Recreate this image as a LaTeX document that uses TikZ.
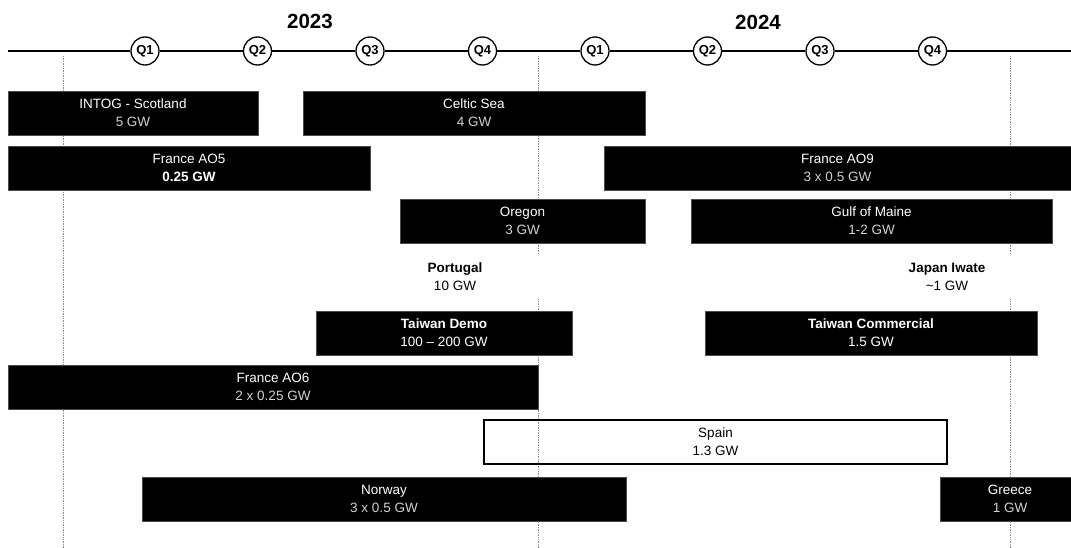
\documentclass[tikz,border=0pt]{standalone}
\usepackage{fontspec}
\setmainfont{Liberation Sans}
\usetikzlibrary{positioning}
\tikzset{
  bar/.style={fill=black, draw=black!70, line width=0.4pt, text=white, inner sep=0pt,
    minimum height=44pt, align=center, font=\fontsize{13.5}{18}\selectfont},
  openbar/.style={bar, fill=none, draw=black, line width=1.5pt, text=black},
  freebar/.style={bar, fill=white, draw=none, text=black},
  quarter/.style={circle, draw=black, line width=1.3pt, fill=white, minimum size=28pt,
    inner sep=0pt, font=\bfseries\fontsize{13}{13}\selectfont},
  year/.style={font=\bfseries\fontsize{20.5}{20.5}\selectfont},
  timeline/.style={black, line width=1.8pt},
  guide/.style={black!45, densely dotted, line width=0.7pt},
}
\newcommand{\gwval}[1]{{\color{white!82!black}#1}}
\begin{document}
\begin{tikzpicture}[x=1pt, y=-1pt]
\useasboundingbox (0,0) rectangle (1071,548);
% Guides
\coordinate (guidea top) at (63,56);
\coordinate (guidea bot) at (63,548);
\coordinate (guideb top) at (538,56);
\coordinate (guideb bot) at (538,548);
\coordinate (guidec top) at (1010,56);
\coordinate (guidec bot) at (1010,548);
\draw[guide] (guidea top) -- (guidea bot);
\draw[guide] (guideb top) -- (guideb bot);
\draw[guide] (guidec top) -- (guidec bot);
% Timeline
\node[year] (yr2023) at (310,21) {2023};
\node[year] (yr2024) at (758,22) {2024};
\node[quarter] (y23q1) at (145,51) {Q1};
\node[quarter] (y23q2) at (257.5,51) {Q2};
\node[quarter] (y23q3) at (370,51) {Q3};
\node[quarter] (y23q4) at (482.5,51) {Q4};
\node[quarter] (y24q1) at (595,51) {Q1};
\node[quarter] (y24q2) at (707.5,51) {Q2};
\node[quarter] (y24q3) at (820,51) {Q3};
\node[quarter] (y24q4) at (932.5,51) {Q4};
\coordinate (line start) at (8,51);
\coordinate (line end) at (1071,51);
\draw[timeline] (line start) -- (y23q1) -- (y23q2) -- (y23q3) -- (y23q4)
  -- (y24q1) -- (y24q2) -- (y24q3) -- (y24q4) -- (line end);
% Tenders
\node[bar, minimum width=250pt] (intog) at (133,113) {INTOG - Scotland\\\gwval{5 GW}};
\node[bar, minimum width=342pt] (celtic) at (474,113) {Celtic Sea\\\gwval{4 GW}};
\node[bar, minimum width=362pt] (ao5) at (189,168) {France AO5\\\textbf{0.25 GW}};
\node[bar, minimum width=467pt] (ao9) at (837.5,168) {France AO9\\\gwval{3 x 0.5 GW}};
\node[bar, minimum width=245pt] (oregon) at (522.5,221) {Oregon\\\gwval{3 GW}};
\node[bar, minimum width=361pt] (maine) at (871.5,221) {Gulf of Maine\\\gwval{1-2 GW}};
\node[freebar, minimum width=180pt] (portugal) at (455,277) {\textbf{Portugal}\\10 GW};
\node[freebar, minimum width=140pt] (iwate) at (947,277) {\textbf{Japan Iwate}\\\textasciitilde1 GW};
\node[bar, minimum width=256pt] (twdemo) at (444,333) {\textbf{Taiwan Demo}\\100 -- 200 GW};
\node[bar, minimum width=332pt] (twcomm) at (871,333) {\textbf{Taiwan Commercial}\\1.5 GW};
\node[bar, minimum width=530pt] (ao6) at (273,387) {France AO6\\\gwval{2 x 0.25 GW}};
\node[openbar, minimum width=463pt] (spain) at (715.5,442) {Spain\\1.3 GW};
\node[bar, minimum width=484pt] (norway) at (384,499) {Norway\\\gwval{3 x 0.5 GW}};
\node[bar, minimum width=140pt] (greece) at (1010,499) {Greece\\\gwval{1 GW}};
\end{tikzpicture}
\end{document}
